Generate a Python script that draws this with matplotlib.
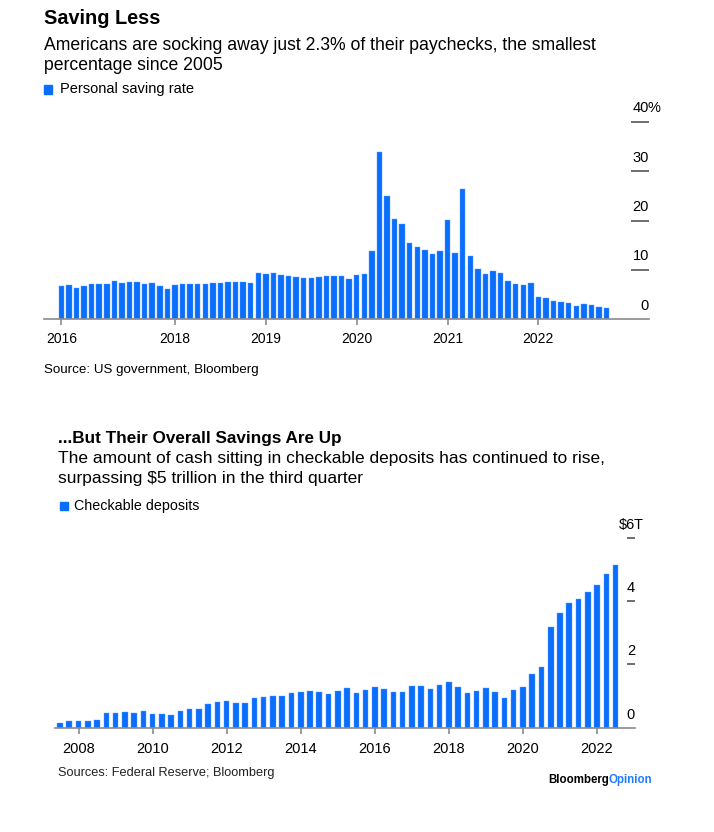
import matplotlib
matplotlib.use('Agg')
import matplotlib.pyplot as plt
import matplotlib.transforms as mtransforms
from matplotlib.patches import Rectangle
import numpy as np

# ---------------- data ----------------
# Top chart: monthly personal saving rate (%), first bar labelled "2016"
saving_rate = [6.8, 7.0, 6.4, 6.8, 7.2, 7.2, 7.2, 7.8, 7.4, 7.6, 7.6, 7.2, 7.4, 6.8, 6.2,
               7.0, 7.2, 7.2, 7.2, 7.2, 7.4, 7.4, 7.6, 7.6, 7.6, 7.4, 9.4,
               9.2, 9.4, 9.0, 8.8, 8.6, 8.4, 8.4, 8.6, 8.8, 8.8, 8.8, 8.2,
               9.0, 9.2, 13.9, 33.9, 24.9, 20.3, 19.3, 15.4, 14.6, 14.1, 13.2, 13.9, 20.1,
               13.4, 26.3, 12.8, 10.2, 9.2, 9.8, 9.4, 7.8, 7.2, 7.0, 7.4,
               4.6, 4.3, 3.8, 3.6, 3.4, 2.6, 3.1, 2.8, 2.4, 2.3]
top_tick_idx = [0, 15, 27, 39, 51, 63]
top_tick_labels = ['2016', '2018', '2019', '2020', '2021', '2022']
top_yticks = [0, 10, 20, 30, 40]

# Bottom chart: quarterly checkable deposits ($T), 2007Q3 .. 2022Q3
deposits = [0.14, 0.20, 0.20, 0.20, 0.23, 0.47, 0.47, 0.50, 0.47, 0.54,
            0.44, 0.44, 0.41, 0.54, 0.60, 0.60, 0.75, 0.81, 0.84, 0.78,
            0.78, 0.93, 0.96, 0.99, 0.99, 1.10, 1.14, 1.17, 1.14, 1.07,
            1.17, 1.25, 1.10, 1.19, 1.28, 1.22, 1.14, 1.14, 1.32, 1.32,
            1.22, 1.35, 1.43, 1.28, 1.10, 1.17, 1.25, 1.14, 0.93, 1.19,
            1.28, 1.70, 1.92, 3.19, 3.61, 3.95, 4.06, 4.30, 4.52, 4.85, 5.15]
bottom_tick_labels = ['2008', '2010', '2012', '2014', '2016', '2018', '2020', '2022']
bottom_tick_idx = [2, 10, 18, 26, 34, 42, 50, 58]
bottom_yticks = [0, 2, 4, 6]

# ---------------- style ----------------
BLUE = '#0a6efd'
AXGRAY = '#8a8a8a'
FONT = ['Liberation Sans', 'DejaVu Sans']
plt.rcParams['font.family'] = FONT

W, H = 714, 832
fig = plt.figure(figsize=(W / 100, H / 100), dpi=100)
fig.patch.set_facecolor('white')

def fx(px):
    return px / W

def fy(py):
    return 1 - py / H

def add_axes_px(left, right, top, bottom):
    return fig.add_axes([fx(left), fy(bottom), (right - left) / W, (bottom - top) / H])

def style_axes(ax):
    for s in ['top', 'right', 'left']:
        ax.spines[s].set_visible(False)
    ax.spines['bottom'].set_color(AXGRAY)
    ax.spines['bottom'].set_linewidth(1.2)
    ax.set_yticks([])
    ax.tick_params(axis='x', length=4.5, width=1.2, color=AXGRAY, pad=5,
                   labelsize=10, labelcolor='black')
    ax.set_facecolor('none')

def right_labels(ax, ticks, stub_from, prefix_top='', suffix_top='', dy=13.5):
    trans = mtransforms.blended_transform_factory(ax.transAxes, ax.transData)
    ax.hlines(ticks[1:], stub_from, 1.0, transform=trans, color='#555555', lw=1.2,
              clip_on=False)
    off = mtransforms.offset_copy(trans, fig=fig, y=dy, units='dots')
    off_suffix = mtransforms.offset_copy(trans, fig=fig, x=-1.5, y=dy, units='dots')
    for i, v in enumerate(ticks):
        is_top = i == len(ticks) - 1
        lab = (prefix_top if is_top else '') + f'{v:g}'
        ax.text(1.0, v, lab, transform=off, ha='right', va='center', fontsize=10.5,
                color='black', clip_on=False)
        if is_top and suffix_top:
            ax.text(1.0, v, suffix_top, transform=off_suffix, ha='left', va='center',
                    fontsize=10.5, color='black', clip_on=False)

# ---------------- top chart ----------------
ax1 = add_axes_px(44, 649, 99.6, 319.3)
x1 = np.arange(len(saving_rate))
ax1.bar(x1, saving_rate, width=0.72, color=BLUE, edgecolor='#5c9dff', linewidth=0.3)
ax1.set_xlim(-2.29, 77.6)
ax1.set_ylim(0, 44.5)
style_axes(ax1)
ax1.set_xticks(top_tick_idx)
ax1.set_xticklabels(top_tick_labels)
ax1.xaxis.get_major_ticks()[0].tick1line.set_color('black')
right_labels(ax1, top_yticks, 0.970, suffix_top='%', dy=13.5)

fig.text(fx(44), fy(19), 'Saving Less', fontsize=14.3, fontweight='bold', va='center', ha='left')
fig.text(fx(44), fy(45), 'Americans are socking away just 2.3% of their paychecks, the smallest',
         fontsize=12.7, va='center', ha='left')
fig.text(fx(44), fy(66), 'percentage since 2005', fontsize=12.7, va='center', ha='left')
fig.patches.append(Rectangle((fx(44), fy(93.5)), 8 / W, 8.5 / H, transform=fig.transFigure,
                             color=BLUE, figure=fig))
fig.text(fx(60), fy(89), 'Personal saving rate', fontsize=10.5, va='center', ha='left')
fig.text(fx(44), fy(370.5), 'Source: US government, Bloomberg', fontsize=9.6, va='center', ha='left')

# ---------------- bottom chart ----------------
ax2 = add_axes_px(55, 635, 518.7, 727.7)
x2 = np.arange(len(deposits))
ax2.bar(x2, deposits, width=0.6, color=BLUE, edgecolor='#5c9dff', linewidth=0.3)
ax2.set_xlim(-0.54, 62.1)
ax2.set_ylim(0, 6.6)
style_axes(ax2)
ax2.set_xticks(bottom_tick_idx)
ax2.set_xticklabels(bottom_tick_labels)
ax2.tick_params(axis='x', labelsize=10.5, pad=6)
right_labels(ax2, bottom_yticks, 0.9857, prefix_top='$', suffix_top='T', dy=13)

fig.text(fx(58), fy(438), '...But Their Overall Savings Are Up', fontsize=12.3, fontweight='bold',
         va='center', ha='left')
fig.text(fx(58), fy(459), 'The amount of cash sitting in checkable deposits has continued to rise,',
         fontsize=12.5, va='center', ha='left')
fig.text(fx(58), fy(479), 'surpassing $5 trillion in the third quarter', fontsize=12.5,
         va='center', ha='left')
fig.patches.append(Rectangle((fx(60), fy(510.5)), 8 / W, 8.5 / H, transform=fig.transFigure,
                             color=BLUE, figure=fig))
fig.text(fx(74), fy(506), 'Checkable deposits', fontsize=10.3, va='center', ha='left')
fig.text(fx(58), fy(773), 'Sources: Federal Reserve; Bloomberg', fontsize=9.2, va='center', ha='left',
         color='#222222')
t = fig.text(fx(548), fy(780), 'Bloomberg', fontsize=8.3, fontweight='bold', va='center', ha='left')
fig.canvas.draw()
bb = t.get_window_extent()
fig.text(bb.x1 / W, fy(780), 'Opinion', fontsize=8.3, fontweight='bold', va='center', ha='left',
         color='#1f7bff')

fig.savefig('out.png', dpi=100, facecolor='white')
